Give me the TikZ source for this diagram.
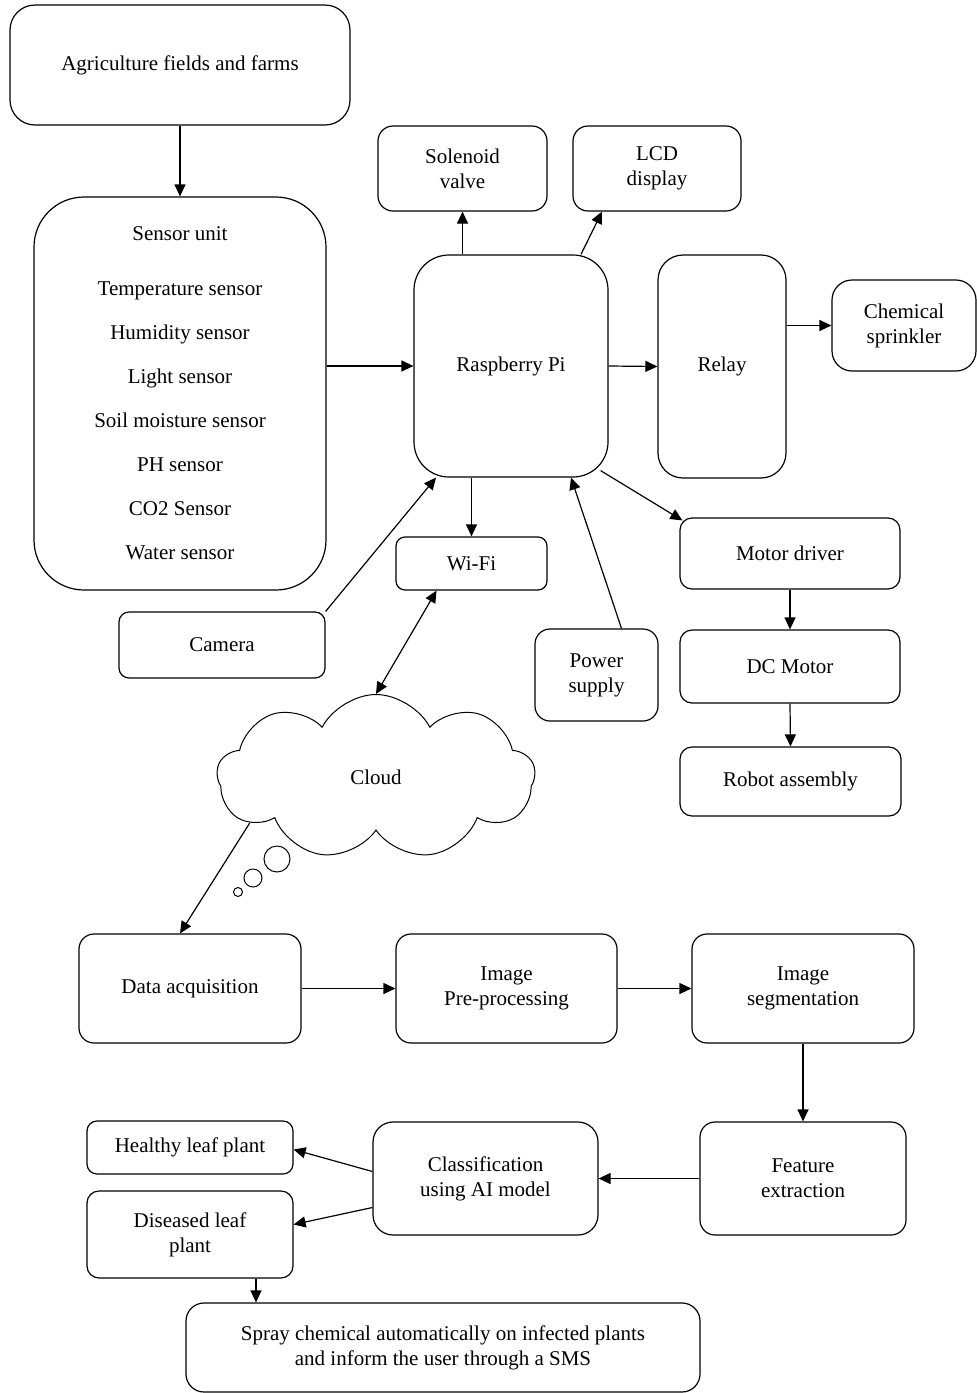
\documentclass[tikz,border=0pt]{standalone}
\usepackage{fontspec}
\setmainfont{Liberation Serif}
\usetikzlibrary{arrows.meta,shapes.symbols,calc}
\begin{document}
\begin{tikzpicture}[x=1pt,y=-1pt, line width=1.2pt,
  box/.style={draw, rounded corners=#1, inner sep=0pt, align=center, font=\fontsize{21}{25}\selectfont},
  box/.default=12pt,
  sz/.style 2 args={minimum width=#1pt, minimum height=#2pt},
  arr/.style={-{Triangle[length=12pt,width=11pt]}},
  dblarr/.style={{Triangle[length=12pt,width=11pt]}-{Triangle[length=12pt,width=11pt]}},
  bubble/.style={draw, line width=1pt, circle, inner sep=0pt}
]
\useasboundingbox (0,0) rectangle (977,1393);

\node[box=25pt, sz={340}{120}] (agri) at (180,65) {Agriculture fields and farms};
\node[box=50pt, sz={292}{393}] (sensor) at (180,393.5) {Sensor unit\\[30pt]Temperature sensor\\[19pt]Humidity sensor\\[19pt]Light sensor\\[19pt]Soil moisture sensor\\[19pt]PH sensor\\[19pt]CO2 Sensor\\[19pt]Water sensor};
\node[box=15pt, sz={169}{85}] (sol) at (462.5,168.5) {Solenoid\\valve};
\node[box=15pt, sz={168}{85}] (lcd) at (657,168.5) {LCD\\display};
\node[box=35pt, sz={194}{222}] (rpi) at (511,366) {Raspberry Pi};
\node[box=25pt, sz={128}{223}] (relay) at (722,366.5) {Relay};
\node[box=20pt, sz={144}{91}] (chem) at (904,325.5) {Chemical\\sprinkler};
\node[box=9pt, sz={151}{53}] (wifi) at (471.5,563.5) {Wi-Fi};
\node[box=10pt, sz={206}{66}] (camera) at (222,645) {Camera};
\node[box=15pt, sz={123}{92}] (power) at (596.5,675) {Power\\supply};
\node[box=12pt, sz={220}{71}] (motor) at (790,553.5) {Motor driver};
\node[box=12pt, sz={220}{73}] (dc) at (790,666.5) {DC Motor};
\node[box=12pt, sz={221}{69}] (robot) at (790.5,781.5) {Robot assembly};

\node[cloud, draw, line width=1pt, cloud puffs=9, cloud puff arc=125, aspect=1.9,
  minimum width=318pt, minimum height=165pt, inner sep=0pt,
  font=\fontsize{21}{25}\selectfont] (cloud) at (376,777) {Cloud};
\node[bubble, minimum size=26pt] (b1) at (277,859) {};
\node[bubble, minimum size=18pt] (b2) at (253,878) {};
\node[bubble, minimum size=9pt] (b3) at (238,892) {};

\node[box=15pt, sz={222}{109}] (data) at (190,988.5) {Data acquisition};
\node[box=15pt, sz={221}{109}] (pre) at (506.5,988.5) {Image\\Pre-processing};
\node[box=15pt, sz={222}{109}] (seg) at (803,988.5) {Image\\segmentation};
\node[box=15pt, sz={206}{113}] (feat) at (803,1178.5) {Feature\\extraction};
\node[box=20pt, sz={225}{113}] (cls) at (485.5,1178.5) {Classification\\using AI model};
\node[box=10pt, sz={206}{53}] (healthy) at (190,1147.5) {Healthy leaf plant};
\node[box=12pt, sz={206}{87}] (dis) at (190,1234.5) {Diseased leaf\\plant};
\node[box=18pt, sz={514}{89}] (spray) at (443,1347.5) {Spray chemical automatically on infected plants\\and inform the user through a SMS};

% connectors
\draw[arr] (agri.south) -- (sensor.north);
\draw[arr] (sensor.east |- rpi.west) -- (rpi.west);
\draw[arr] (sol.south |- rpi.north) -- (sol.south);
\draw[arr] ([xshift=70pt]rpi.north) -- ([xshift=-55pt]lcd.south);
\draw[arr] (rpi.east) -- (relay.west);
\draw[arr] (relay.east |- chem.west) -- (chem.west);
\draw[arr] (wifi.north |- rpi.south) -- (wifi.north);
\draw[arr] (camera.north east) -- ([xshift=-75pt]rpi.south);
\draw[arr] ([xshift=25pt]power.north) -- ([xshift=60pt]rpi.south);
\draw[arr] ([shift={(-8pt,7pt)}]rpi.south east) -- ([shift={(3pt,-3pt)}]motor.north west);
\draw[arr] (motor.south) -- (dc.north);
\draw[arr] (dc.south) -- (robot.north);
\draw[dblarr] ([xshift=-35pt]wifi.south) -- (cloud.north);
\draw[arr] (cloud.200) -- ([xshift=-10pt]data.north);
\draw[arr] (data.east) -- (pre.west);
\draw[arr] (pre.east) -- (seg.west);
\draw[arr] (seg.south) -- (feat.north);
\draw[arr] (feat.west) -- (cls.east);
\draw[arr] ([yshift=7pt]cls.west) -- ([yshift=-2pt]healthy.east);
\draw[arr] ([yshift=-29pt]cls.west) -- ([yshift=10pt]dis.east);
\draw[arr] ([xshift=66pt]dis.south) -- ([xshift=66pt]dis.south |- spray.north);
\end{tikzpicture}
\end{document}
